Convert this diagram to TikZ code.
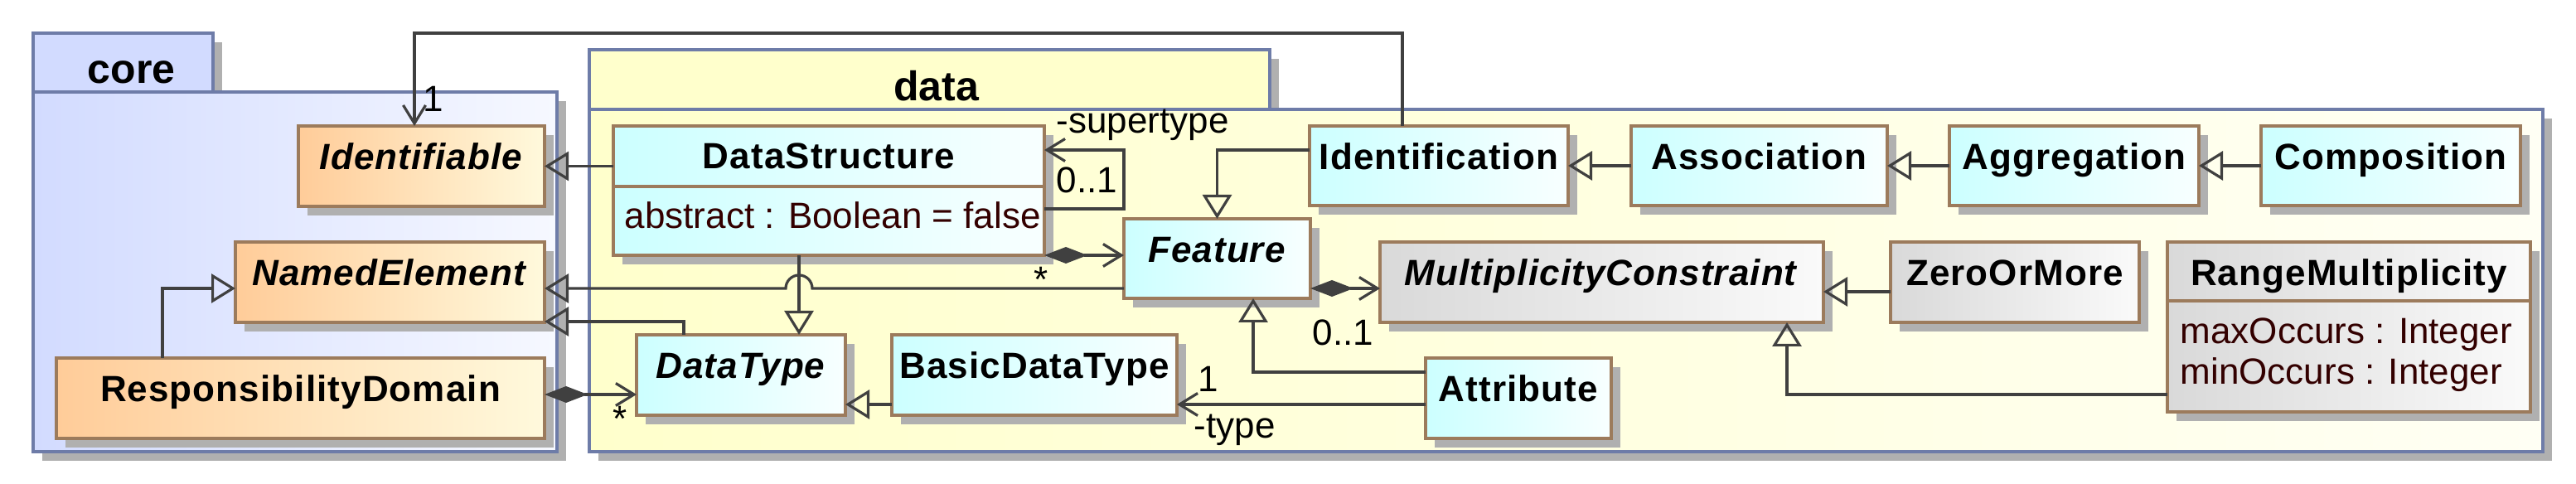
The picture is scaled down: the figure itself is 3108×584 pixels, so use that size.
\documentclass[tikz,border=0pt]{standalone}
\usepackage{fontspec}
\setmainfont{Liberation Sans}
\newfontfamily\clsfam{Liberation Sans}[LetterSpace=2.5]
\usetikzlibrary{arrows.meta}

\definecolor{pkgline}{HTML}{6E7CA8}
\definecolor{clsline}{HTML}{9C7B5C}
\definecolor{conn}{HTML}{404040}
\definecolor{shadowc}{HTML}{B0B0B0}
\definecolor{attrc}{HTML}{330000}
\definecolor{coreL}{HTML}{D2DBFF}
\definecolor{coreR}{HTML}{F6F8FF}
\definecolor{dataL}{HTML}{FFFFCC}
\definecolor{dataR}{HTML}{FFFFF4}
\definecolor{cyanL}{HTML}{CCFFFF}
\definecolor{cyanR}{HTML}{F8FFFF}
\definecolor{orangeL}{HTML}{FFCC99}
\definecolor{orangeR}{HTML}{FFF9DC}
\definecolor{grayL}{HTML}{D9D9D9}
\definecolor{grayR}{HTML}{FAFAFA}

\newcommand\clsfont{\clsfam\bfseries\fontsize{11}{13}\selectfont}
\newcommand\pkgfont{\bfseries\fontsize{12.5}{15}\selectfont}
\newcommand\lblfont{\fontsize{11}{13}\selectfont}

% name, style, x1, y1, x2, y2, text  (coordinates in px, y downward)
\newcommand\boxat[7]{%
  \fill[shadowc] (#3+11,#4+11) rectangle (#5+11,#6+11);
  \node[#2, minimum width={(#5-#3)*0.25pt}, minimum height={(#6-#4)*0.25pt}] (#1) at ({(#3+#5)/2},{(#4+#6)/2}) {#7};
}

\tikzset{
  pkgbase/.style={rectangle, draw=pkgline, line width=1pt, inner sep=0pt, outer sep=0pt},
  corepkg/.style={pkgbase, left color=coreL, right color=coreR},
  datapkg/.style={pkgbase, left color=dataL, right color=dataR},
  coretabst/.style={pkgbase, fill=coreL, font=\pkgfont, text height=13pt, text depth=0.25pt},
  datatabst/.style={pkgbase, fill=dataL, font=\pkgfont, text height=13pt, text depth=0.25pt},
  clsbase/.style={rectangle, draw=clsline, line width=1pt, inner sep=0pt, outer sep=0pt,
    font=\clsfont, text height=8pt, text depth=5.75pt},
  cyancls/.style={clsbase, left color=cyanL, right color=cyanR},
  orangecls/.style={clsbase, left color=orangeL, right color=orangeR},
  graycls/.style={clsbase, left color=grayL, right color=grayR},
  namefont/.style={inner sep=0pt, font=\clsfont},
  attrfont/.style={inner sep=0pt, font=\lblfont, text=attrc},
  lbl/.style={inner sep=0pt, font=\lblfont},
  divider/.style={draw=clsline, line width=1pt},
  conn/.style={draw=conn, line width=0.8pt},
  gen/.style={conn, -{Triangle[open, length=7.25pt, width=8.75pt]}},
  assoc/.style={conn, -{Straight Barb[length=5.5pt, width=6.75pt]}},
  comp/.style={conn, {Diamond[length=13pt, width=5pt]}-{Straight Barb[length=5.5pt, width=6.75pt]}},
}

\begin{document}
\begin{tikzpicture}[x=0.25pt,y=-0.25pt]
\useasboundingbox (0,0) rectangle (3108,584);

% packages
\boxat{coretab}{coretabst}{40}{40}{257}{111}{\hspace*{5pt}core}
\boxat{corebody}{corepkg}{40}{111}{672}{545}{}
\boxat{datatab}{datatabst}{711}{60}{1532}{132}{\hspace*{4pt}data}
\boxat{databody}{datapkg}{711}{132}{3068}{545}{}

% classes
\boxat{Identifiable}{orangecls}{360}{152}{657}{249}{\textit{Identifiable}}
\boxat{NamedElement}{orangecls}{284}{292}{657}{389}{\textit{NamedElement}}
\boxat{ResponsibilityDomain}{orangecls}{68}{432}{657}{529}{ResponsibilityDomain}
\boxat{DataStructure}{cyancls}{740}{152}{1260}{308}{}
\boxat{Feature}{cyancls}{1356}{264}{1581}{360}{\textit{Feature}}
\boxat{DataType}{cyancls}{768}{404}{1020}{501}{\textit{DataType}}
\boxat{BasicDataType}{cyancls}{1076}{404}{1420}{501}{BasicDataType}
\boxat{Identification}{cyancls}{1580}{152}{1892}{248}{Identification}
\boxat{Association}{cyancls}{1968}{152}{2277}{248}{Association}
\boxat{Aggregation}{cyancls}{2352}{152}{2653}{248}{Aggregation}
\boxat{Composition}{cyancls}{2728}{152}{3041}{248}{Composition}
\boxat{MultiplicityConstraint}{graycls}{1665}{292}{2200}{389}{\textit{MultiplicityConstraint}}
\boxat{ZeroOrMore}{graycls}{2281}{292}{2581}{389}{ZeroOrMore}
\boxat{RangeMultiplicity}{graycls}{2615}{292}{3053}{497}{}
\boxat{Attribute}{cyancls}{1720}{432}{1944}{529}{Attribute}

% compartments
\node[namefont, anchor=base] (dsname) at ([yshift=-13pt]DataStructure.north) {DataStructure};
\draw[divider] ([yshift=-18.25pt]DataStructure.north west) -- ([yshift=-18.25pt]DataStructure.north east);
\node[attrfont, anchor=base west] (dsattr) at ([xshift=3.25pt,yshift=-30.9pt]DataStructure.north west) {abstract : Boolean = false};

\node[namefont, anchor=base] (rmname) at ([yshift=-13.1pt]RangeMultiplicity.north) {RangeMultiplicity};
\draw[divider] ([yshift=-17.75pt]RangeMultiplicity.north west) -- ([yshift=-17.75pt]RangeMultiplicity.north east);
\node[attrfont, anchor=base west] (rmmax) at ([xshift=3.75pt,yshift=-30.75pt]RangeMultiplicity.north west) {maxOccurs : Integer};
\node[attrfont, anchor=base west] (rmmin) at ([xshift=3.75pt,yshift=-43pt]RangeMultiplicity.north west) {minOccurs : Integer};

% helper coordinates
\coordinate (hop) at (964,348);
\coordinate (rdc) at ([yshift=1.125pt]ResponsibilityDomain.east);
\coordinate (bdtl) at ([yshift=-8.875pt]BasicDataType.west);
\coordinate (attl) at ([yshift=-1.875pt]Attribute.west);
\coordinate (featr) at ([yshift=-9pt]Feature.east);
\coordinate (zoml) at ([yshift=-2.875pt]ZeroOrMore.west);

% connectors
\draw[gen] (DataStructure.west |- Identifiable.east) -- (Identifiable.east);
\draw[assoc] ([xshift=-11pt]Identification.north) -- ++(0,-112) -| ([xshift=-2.125pt]Identifiable.north);
\draw[assoc] ([yshift=-5.5pt]DataStructure.east) -- ++(96,0) |- ([yshift=12.25pt]DataStructure.east);
\draw[comp] (DataStructure.south east) -- (Feature.west |- DataStructure.south east);
\draw[gen] ([yshift=-9pt]Feature.west) -- ([xshift=4pt]hop) arc[start angle=0, end angle=180, radius=4pt] -- (NamedElement.east |- hop);
\draw[gen] (hop |- DataStructure.south) -- (hop |- DataType.north);
\draw[gen] ([xshift=-17.25pt]DataType.north) |- ([yshift=0.25pt]NamedElement.south east);
\draw[gen] ([xshift=-41.625pt]ResponsibilityDomain.north) |- (NamedElement.west |- hop);
\draw[comp] (rdc) -- (rdc -| DataType.west);
\draw[gen] (bdtl) -- (bdtl -| DataType.east);
\draw[assoc] (attl) -- (attl -| BasicDataType.east);
\draw[gen] ([yshift=7.875pt]Attribute.west) -| ([xshift=10.875pt]Feature.south);
\draw[gen] ([yshift=4.75pt]Identification.west) -| (Feature.north);
\draw[gen] (Association.west) -- (Identification.east);
\draw[gen] (Aggregation.west) -- (Association.east);
\draw[gen] (Composition.west) -- (Aggregation.east);
\draw[comp] (featr) -- (featr -| MultiplicityConstraint.west);
\draw[gen] (zoml) -- (zoml -| MultiplicityConstraint.east);
\draw[gen] ([yshift=-20.375pt]RangeMultiplicity.west) -| ([xshift=55.875pt]MultiplicityConstraint.south);

% labels
\node[lbl] (lone) at (523,119) {1};
\node[lbl, anchor=base west] (lsup) at (1274,161) {-supertype};
\node[lbl, anchor=base west] (lzoa) at (1274,233) {0..1};
\node[lbl] (lstara) at (1256,337) {*};
\node[lbl, anchor=base west] (lzob) at (1583,417) {0..1};
\node[lbl, anchor=base west] (loneb) at (1445,473) {1};
\node[lbl, anchor=base west] (ltype) at (1440,529) {-type};
\node[lbl] (lstarb) at (748,505) {*};
\end{tikzpicture}
\end{document}
